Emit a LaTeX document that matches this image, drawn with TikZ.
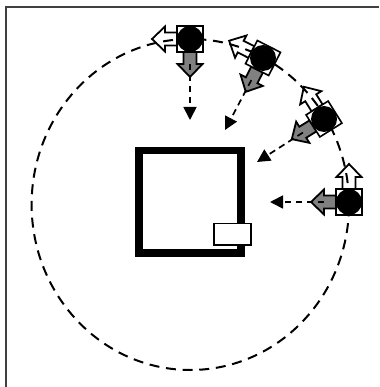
\documentclass[tikz,border=0pt]{standalone}
\usetikzlibrary{arrows.meta,calc}
\tikzset{
  x=1pt,y=1pt,
  frameline/.style={draw=black!75,line width=2pt},
  orbit/.style={draw=black,line width=2pt,dash pattern=on 10pt off 6.7pt,dash phase=11.9pt},
  robotbody/.style={draw=black,fill=white,line width=1.6pt,minimum size=26pt,inner sep=0pt,outer sep=0pt},
  robotdisc/.style={circle,fill=black,minimum size=26pt,inner sep=0pt,outer sep=0pt},
  fatarrow/.style={draw=black,line width=1.8pt,line join=miter},
  approach/.style={draw=black,line width=1.7pt,dash pattern=on 6.5pt off 4.5pt,-{Triangle[length=13pt,width=13pt]}},
  wall/.style={draw=black,line width=7.5pt,fill=white,minimum width=102pt,minimum height=102.5pt,inner sep=0pt,outer sep=0pt},
  dock/.style={draw=black,line width=1.6pt,fill=white,minimum width=36.5pt,minimum height=21.5pt,inner sep=0pt,outer sep=0pt},
}
% #1 x, #2 y, #3 angle
\newcommand{\robotarrows}[3]{%
  \begin{scope}[shift={(#1,#2)},rotate=#3]
    \draw[fatarrow,fill=white] (0,13) -- (6.5,13) -- (6.5,25) -- (12.5,25) -- (0,38) -- (-12.5,25) -- (-6.5,25) -- (-6.5,13) -- cycle;
    \draw[fatarrow,fill=black!50] (-13,-6.5) -- (-25,-6.5) -- (-25,-12.5) -- (-38,0) -- (-25,12.5) -- (-25,6.5) -- (-13,6.5) -- cycle;
  \end{scope}
}
% #1 name, #2 x, #3 y, #4 angle
\newcommand{\robotbody}[4]{%
  \node[robotbody,rotate=#4] (#1body) at (#2,#3) {};
  \node[robotdisc] (#1disc) at (#2,#3) {};
}
\begin{document}
\begin{tikzpicture}
  \useasboundingbox (0,-387) rectangle (379,0);
  \fill[white] (0,-387) rectangle (379,0);
  \coordinate (fa) at (6,-387);
  \coordinate (fb) at (6,-7.5);
  \coordinate (fc) at (379,-7.5);
  \draw[frameline] (fa) -- (fb) -- (fc);
  \node[wall] (room) at (190,-201.75) {};
  \node[dock] (station) at (232.5,-234.2) {};
  \robotarrows{190}{-39}{90}
  \robotarrows{263}{-58}{63}
  \robotarrows{324}{-119}{32}
  \robotarrows{349}{-202}{0}
  \draw[orbit] (190.3,-204.5) ellipse [x radius=158.7,y radius=165.5];
  \coordinate (ga) at (190,-120);
  \coordinate (gb) at (225,-130);
  \coordinate (gc) at (257,-162);
  \coordinate (gd) at (270,-202);
  \coordinate (sa) at (190,-39);
  \coordinate (sb) at (263,-58);
  \coordinate (sc) at (324,-119);
  \coordinate (sd) at (349,-202);
  \draw[approach] ($(sa)!25pt!(ga)$) -- (ga);
  \draw[approach] ($(sb)!25pt!(gb)$) -- (gb);
  \draw[approach] ($(sc)!25pt!(gc)$) -- (gc);
  \draw[approach] ($(sd)!25pt!(gd)$) -- (gd);
  \robotbody{ra}{190}{-39}{90}
  \robotbody{rb}{263}{-58}{63}
  \robotbody{rc}{324}{-119}{32}
  \robotbody{rd}{349}{-202}{0}
\end{tikzpicture}
\end{document}
